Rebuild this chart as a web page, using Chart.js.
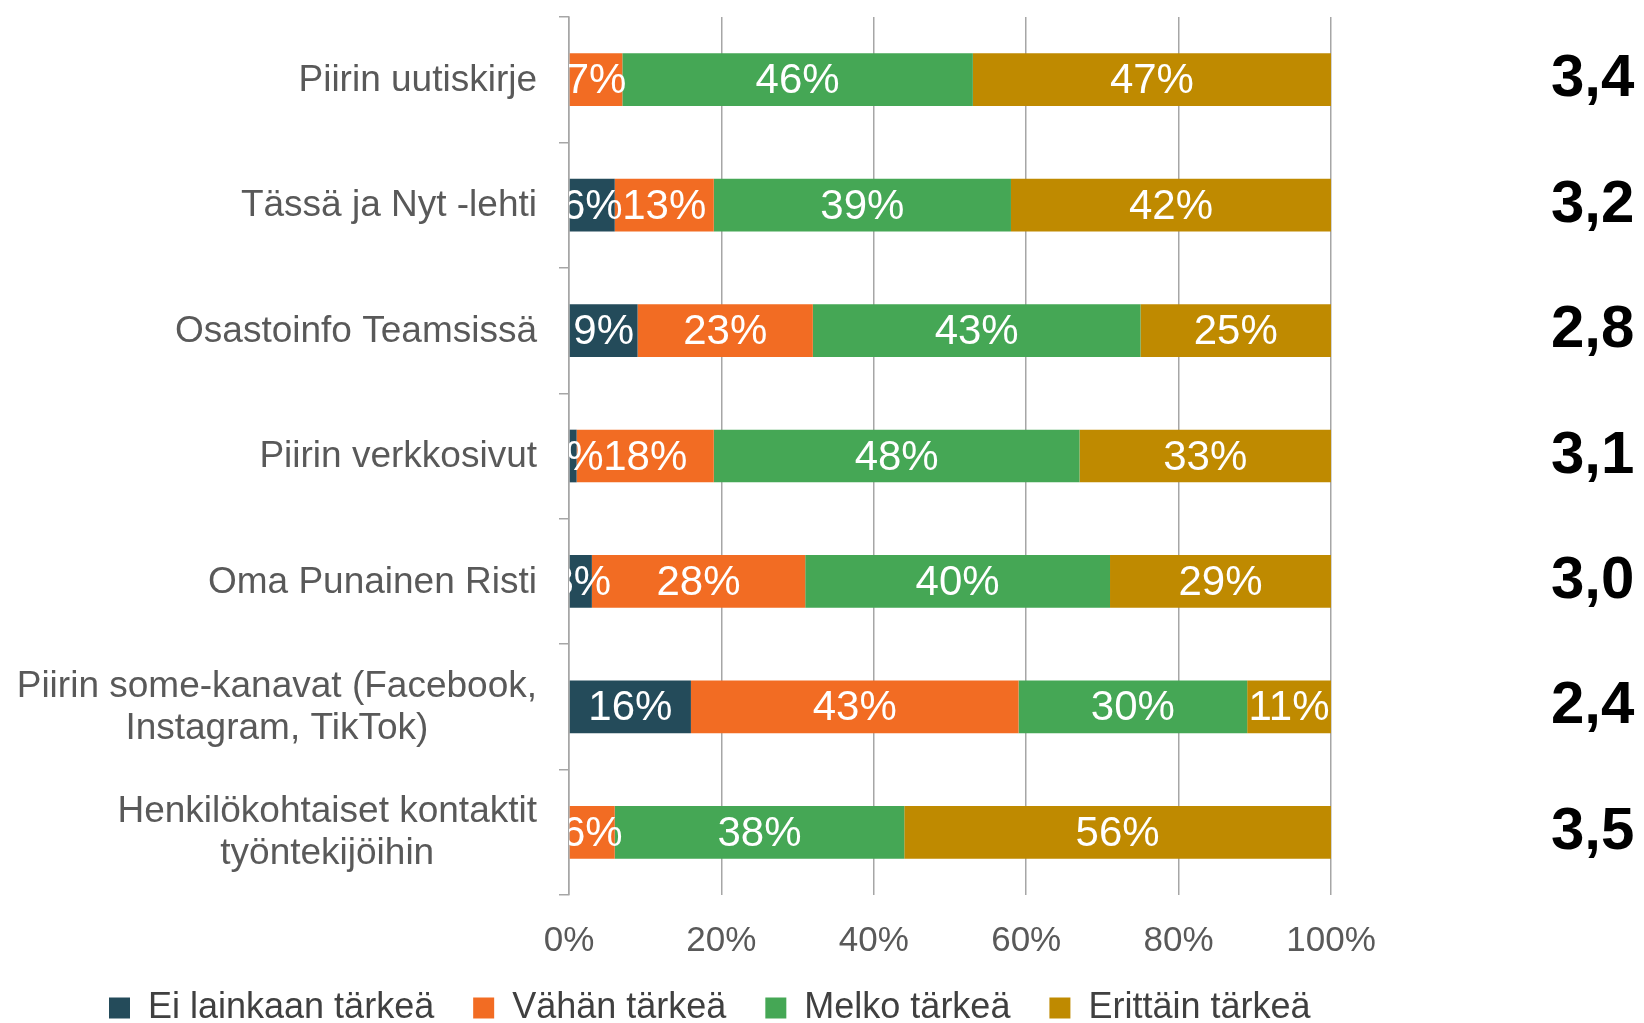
<!DOCTYPE html>
<html>
<head>
<meta charset="utf-8">
<script src="https://cdn.jsdelivr.net/npm/chart.js@4"></script>
<style>
    html, body { margin: 0; padding: 0; background: #fff; }
    #wrap { width: 1644px; height: 1023px; position: relative; }
</style>
</head>
<body>
<div id="wrap"><canvas id="chart"></canvas></div>
<script>
const categories = [
    ['Piirin uutiskirje'],
    ['Tässä ja Nyt -lehti'],
    ['Osastoinfo Teamsissä'],
    ['Piirin verkkosivut'],
    ['Oma Punainen Risti'],
    ['Piirin some-kanavat (Facebook,', 'Instagram, TikTok)'],
    ['Henkilökohtaiset kontaktit', 'työntekijöihin']
];
const seriesNames = ['Ei lainkaan tärkeä', 'Vähän tärkeä', 'Melko tärkeä', 'Erittäin tärkeä'];
const eiLainkaan = [0, 6, 9, 1, 3, 16, 0];
const vahan = [7, 13, 23, 18, 28, 43, 6];
const melko = [46, 39, 43, 48, 40, 30, 38];
const erittain = [47, 42, 25, 33, 29, 11, 56];
const averages = ['3,4', '3,2', '2,8', '3,1', '3,0', '2,4', '3,5'];
const xTicks = [0, 20, 40, 60, 80, 100];

const colors = ['#244b5a', '#f26c23', '#45a755', '#bf8a00'];
const FONT = '"Liberation Sans", Arial, sans-serif';

// white % labels in the middle of each segment
const segmentLabels = {
    id: 'segmentLabels',
    afterDatasetsDraw(chart){
        const ctx = chart.ctx;
        const area = chart.chartArea;
        ctx.save();
        ctx.beginPath();
        ctx.rect(area.left, area.top, area.right - area.left, area.bottom - area.top);
        ctx.clip();
        ctx.font = '42px ' + FONT;
        ctx.fillStyle = '#ffffff';
        ctx.textAlign = 'center';
        ctx.textBaseline = 'middle';
        chart.data.datasets.forEach((ds, di) => {
            const meta = chart.getDatasetMeta(di);
            meta.data.forEach((bar, i) => {
                const v = ds.data[i];
                if(!v) return;
                ctx.fillText(v + '%', (bar.x + bar.base) / 2, bar.y + 2);
            });
        });
        ctx.restore();
    }
};

// category names, lines centred on each other, block right aligned
const categoryLabels = {
    id: 'categoryLabels',
    afterDraw(chart){
        const ctx = chart.ctx;
        const y = chart.scales.y;
        const right = chart.chartArea.left - 32;
        const lineH = 42;
        ctx.save();
        ctx.font = '37px ' + FONT;
        ctx.fillStyle = '#595959';
        ctx.textAlign = 'center';
        ctx.textBaseline = 'middle';
        categories.forEach((lines, i) => {
            const cy = y.getPixelForValue(i);
            const w = Math.max(...lines.map(l => ctx.measureText(l).width));
            const cx = right - w / 2;
            const y0 = cy - (lines.length - 1) * lineH / 2;
            lines.forEach((l, j) => ctx.fillText(l, cx, y0 + j * lineH + 1));
        });
        ctx.restore();
    }
};

const datasets = [eiLainkaan, vahan, melko, erittain].map((d, i) => ({
    label: seriesNames[i],
    data: d,
    backgroundColor: colors[i],
    borderWidth: 0,
    categoryPercentage: 1,
    barPercentage: 0.42
}));

new Chart(document.getElementById('chart'), {
    type: 'bar',
    data: { labels: categories.map(c => c.join(' ')), datasets },
    options: {
        indexAxis: 'y',
        responsive: true,
        maintainAspectRatio: false,
        animation: false,
        layout: { padding: { top: 15, left: 70, right: 0, bottom: -13 } },
        scales: {
            x: {
                stacked: true,
                min: 0,
                max: 100,
                afterBuildTicks(scale){ scale.ticks = xTicks.map(v => ({value: v})); },
                ticks: {
                    callback: v => v + '%',
                    color: '#595959',
                    font: { family: FONT, size: 35 },
                    padding: 25,
                    maxRotation: 0
                },
                grid: { color: '#a6a6a6', lineWidth: 1.5, drawTicks: false },
                border: { display: false },
                // labels may run into the legend's empty top padding
                afterFit(scale){ scale.height -= 36; }
            },
            y: {
                stacked: true,
                offset: true,
                ticks: { display: false },
                grid: { drawOnChartArea: false, offset: true, tickLength: 10, color: '#a6a6a6', lineWidth: 1.5 },
                border: { display: true, color: '#a6a6a6', width: 1.5 },
                afterFit(scale){ scale.width = 499; }
            },
            y2: {
                type: 'category',
                position: 'right',
                labels: averages,
                offset: true,
                // invisible tick marks push the numbers out to the right edge
                grid: { display: true, drawOnChartArea: false, drawTicks: true, tickLength: 215, color: 'rgba(0,0,0,0)' },
                border: { display: false },
                ticks: {
                    color: '#000000',
                    font: { family: FONT, size: 60, weight: 'bold', lineHeight: 0.4 },
                    padding: 5,
                    autoSkip: false
                },
                afterFit(scale){ scale.width = 313; }
            }
        },
        plugins: {
            legend: {
                position: 'bottom',
                align: 'start',
                labels: {
                    boxWidth: 21,
                    boxHeight: 21,
                    padding: 39,
                    color: '#404040',
                    font: { family: FONT, size: 36 }
                }
            },
            tooltip: { enabled: false }
        }
    },
    plugins: [segmentLabels, categoryLabels]
});
</script>
</body>
</html>
